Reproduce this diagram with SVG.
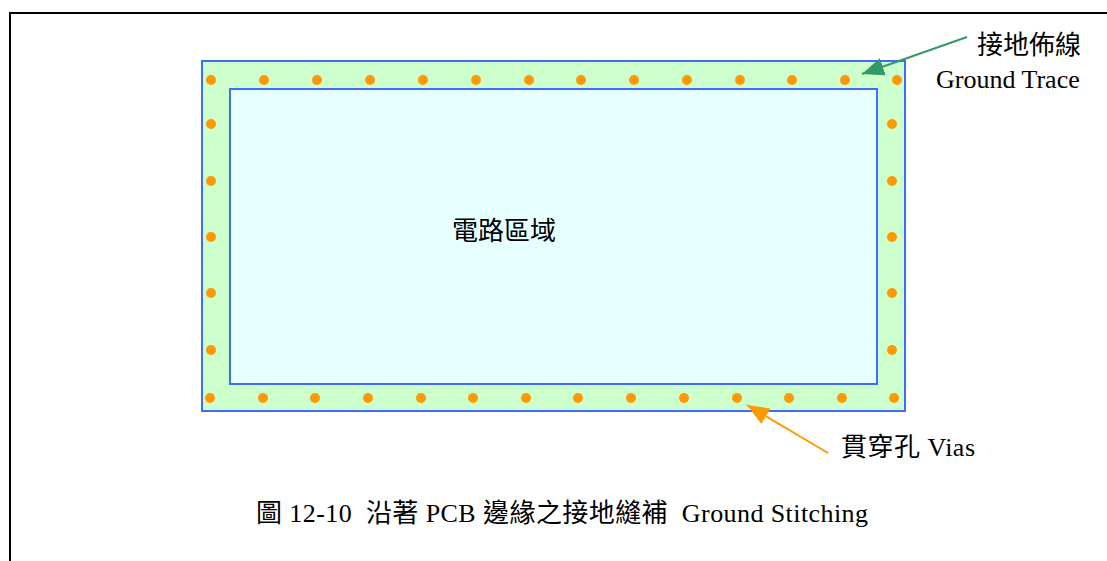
<svg xmlns="http://www.w3.org/2000/svg" width="1107" height="561" viewBox="0 0 1107 561">
<style>
.t{font-family:"Liberation Serif","Noto Sans CJK TC",serif;font-size:26px;fill:#000;white-space:pre}
.v{fill:#ff9900}
.b{stroke:#3d6cff;stroke-width:2}
</style>
<defs>
<marker id="ag" markerUnits="userSpaceOnUse" markerWidth="24" markerHeight="18" refX="22" refY="9" orient="auto"><path d="M0,0 L22,9 L0,18 z" fill="#339966"/></marker>
<marker id="ao" markerUnits="userSpaceOnUse" markerWidth="24" markerHeight="18" refX="22" refY="9" orient="auto"><path d="M0,0 L22,9 L0,18 z" fill="#ff9900"/></marker>
</defs>
<rect width="1107" height="561" fill="#fff"/>
<rect x="10" y="13" width="1110" height="560" fill="none" stroke="#000" stroke-width="2"/>
<g id="ground-trace">
<rect x="202" y="61" width="703" height="350" fill="#ccffcc" class="b"/>
</g>
<g id="circuit-area">
<rect x="230" y="89" width="647" height="295" fill="#e6ffff" class="b"/>
<text class="t" x="452" y="240">電路區域</text>
</g>
<g id="vias">
<circle class="v" cx="211" cy="80" r="5"/><circle class="v" cx="264" cy="80" r="5"/><circle class="v" cx="317" cy="80" r="5"/><circle class="v" cx="370" cy="80" r="5"/><circle class="v" cx="423" cy="80" r="5"/><circle class="v" cx="476" cy="80" r="5"/><circle class="v" cx="529" cy="80" r="5"/><circle class="v" cx="581" cy="80" r="5"/><circle class="v" cx="634" cy="80" r="5"/><circle class="v" cx="687" cy="80" r="5"/><circle class="v" cx="740" cy="80" r="5"/><circle class="v" cx="792" cy="80" r="5"/><circle class="v" cx="845" cy="80" r="5"/><circle class="v" cx="897" cy="80" r="5"/>
<circle class="v" cx="210" cy="398" r="5"/><circle class="v" cx="263" cy="398" r="5"/><circle class="v" cx="315" cy="398" r="5"/><circle class="v" cx="368" cy="398" r="5"/><circle class="v" cx="421" cy="398" r="5"/><circle class="v" cx="473" cy="398" r="5"/><circle class="v" cx="526" cy="398" r="5"/><circle class="v" cx="578" cy="398" r="5"/><circle class="v" cx="631" cy="398" r="5"/><circle class="v" cx="684" cy="398" r="5"/><circle class="v" cx="737" cy="398" r="5"/><circle class="v" cx="789" cy="398" r="5"/><circle class="v" cx="842" cy="398" r="5"/><circle class="v" cx="894" cy="398" r="5"/>
<circle class="v" cx="211" cy="124" r="5"/><circle class="v" cx="211" cy="181" r="5"/><circle class="v" cx="211" cy="237" r="5"/><circle class="v" cx="211" cy="293" r="5"/><circle class="v" cx="211" cy="350" r="5"/>
<circle class="v" cx="892" cy="124" r="5"/><circle class="v" cx="892" cy="181" r="5"/><circle class="v" cx="892" cy="237" r="5"/><circle class="v" cx="892" cy="293" r="5"/><circle class="v" cx="892" cy="350" r="5"/>
</g>
<g id="label-trace">
<text class="t" x="977" y="54">接地佈線</text>
<text class="t" x="936" y="88">Ground Trace</text>
</g>
<g id="label-vias">
<text class="t" x="841" y="456" textLength="134" lengthAdjust="spacing">貫穿孔 Vias</text>
</g>
<g id="caption">
<text class="t" x="256" y="522" textLength="612" lengthAdjust="spacing" xml:space="preserve">圖 12-10  沿著 PCB 邊緣之接地縫補  Ground Stitching</text>
</g>
<g id="connectors">
<line x1="967" y1="37" x2="862" y2="74" stroke="#339966" stroke-width="2" marker-end="url(#ag)"/>
<line x1="828" y1="453" x2="747" y2="405" stroke="#ff9900" stroke-width="2" marker-end="url(#ao)"/>
</g>
</svg>
